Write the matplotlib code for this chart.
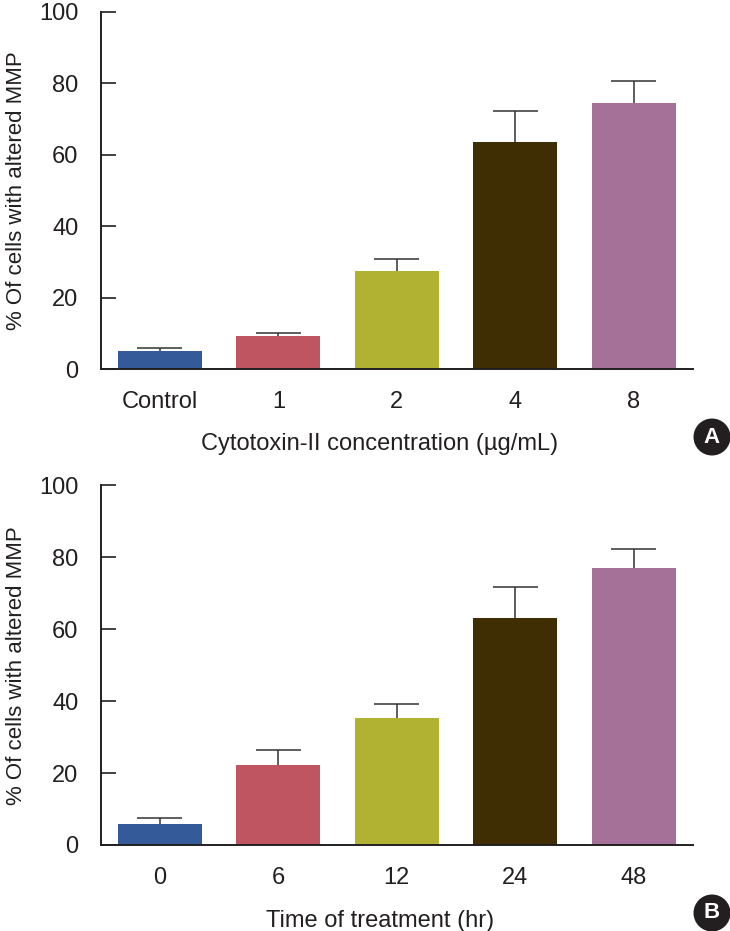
import matplotlib
matplotlib.use('Agg')
import matplotlib.pyplot as plt
from matplotlib.patches import Ellipse

plt.rcParams['font.family'] = ['Liberation Sans', 'DejaVu Sans']

# panel A: concentration
conc_labels = ['Control', '1', '2', '4', '8']
conc_vals = [5.0, 9.3, 27.5, 63.4, 74.5]
conc_err = [0.8, 0.9, 3.4, 8.7, 6.2]

# panel B: time
time_labels = ['0', '6', '12', '24', '48']
time_vals = [5.75, 22.3, 35.2, 63.0, 76.9]
time_err = [1.85, 4.1, 4.0, 8.6, 5.4]

colors = ['#345a99', '#bf5560', '#b2b232', '#3f2e03', '#a57198']
ink = '#231f20'

fig = plt.figure(figsize=(7.30, 9.31), dpi=100)
axA = fig.add_axes([0.138, 0.6036, 0.811, 0.384])
axB = fig.add_axes([0.138, 0.0924, 0.811, 0.3863])

def draw(ax, labels, vals, err, xlabel):
    x = list(range(len(labels)))
    ax.bar(x, vals, width=0.71, color=colors, zorder=2)
    # upper error bars only
    tops = [v + e for v, e in zip(vals, err)]
    ax.vlines(x, vals, tops, color='#333333', linewidth=1.1, zorder=3)
    ax.hlines(tops, [i - 0.19 for i in x], [i + 0.19 for i in x],
              color='#333333', linewidth=1.1, zorder=3)
    ax.set_xlim(-0.5, 4.5)
    ax.set_ylim(0, 100)
    ax.set_yticks([0, 20, 40, 60, 80, 100])
    ax.set_xticks(x)
    ax.set_xticklabels(labels)
    for s in ['top', 'right']:
        ax.spines[s].set_visible(False)
    for s in ['left', 'bottom']:
        ax.spines[s].set_linewidth(1.4)
        ax.spines[s].set_color(ink)
    ax.tick_params(axis='y', direction='in', length=11, width=1.2, color=ink,
                   labelsize=17, pad=16, labelcolor=ink)
    ax.tick_params(axis='x', length=0, labelsize=17, pad=16, labelcolor=ink)
    ax.set_ylabel('% Of cells with altered MMP', fontsize=16, color=ink)
    ax.yaxis.set_label_coords(-0.125, 0.5)
    ax.set_xlabel(xlabel, fontsize=17, color=ink)

draw(axA, conc_labels, conc_vals, conc_err, 'Cytotoxin-II concentration (µg/mL)')
draw(axB, time_labels, time_vals, time_err, 'Time of treatment (hr)')
axA.xaxis.set_label_coords(0.471, -0.18)
axB.xaxis.set_label_coords(0.471, -0.18)

for letter, cy in [('A', 437), ('B', 913)]:
    fx, fy = 712 / 730, 1 - cy / 931
    fig.patches.append(Ellipse((fx, fy), 37 / 730, 37 / 931, transform=fig.transFigure,
                               facecolor=ink, edgecolor='none'))
    fig.text(fx, fy, letter, color='white', fontsize=16, fontweight='bold',
             ha='center', va='center')

fig.savefig('out.png', dpi=100)
